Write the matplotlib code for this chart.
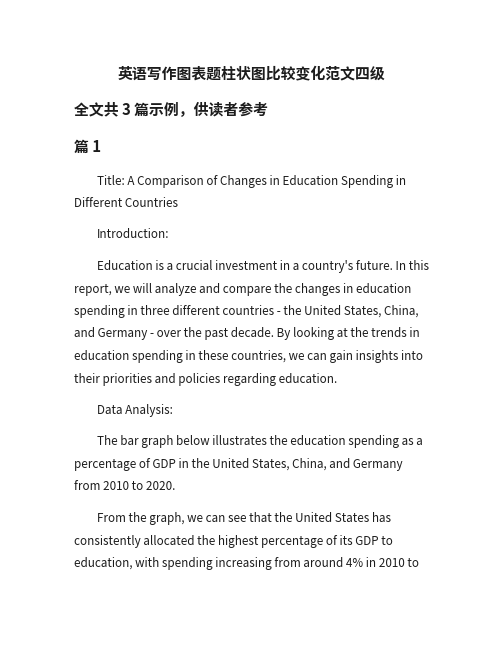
import matplotlib
matplotlib.use("Agg")
import matplotlib.pyplot as plt

plt.rcParams['font.family'] = ['Noto Sans CJK SC', 'DejaVu Sans']

W, H = 502, 649

doc_title = "英语写作图表题柱状图比较变化范文四级"
subtitle = "全文共 3 篇示例，供读者参考"
heading = "篇 1"

paragraphs = [
    ["Title: A Comparison of Changes in Education Spending in",
     "Different Countries"],
    ["Introduction:"],
    ["Education is a crucial investment in a country's future. In this",
     "report, we will analyze and compare the changes in education",
     "spending in three different countries - the United States, China,",
     "and Germany - over the past decade. By looking at the trends in",
     "education spending in these countries, we can gain insights into",
     "their priorities and policies regarding education."],
    ["Data Analysis:"],
    ["The bar graph below illustrates the education spending as a",
     "percentage of GDP in the United States, China, and Germany",
     "from 2010 to 2020."],
    ["From the graph, we can see that the United States has",
     "consistently allocated the highest percentage of its GDP to",
     "education, with spending increasing from around 4% in 2010 to"],
]

fig = plt.figure(figsize=(W / 100, H / 100), dpi=100)
fig.patch.set_facecolor('white')

color = '#1c1c1c'

def put(x, y, s, **kw):
    fig.text(x / W, 1 - y / H, s, color=color, va='center', **kw)

put(251, 73, doc_title, ha='center', fontsize=10.7, fontweight='bold')
put(74, 110, subtitle, ha='left', fontsize=10.7, fontweight='bold')
put(74, 147, heading, ha='left', fontsize=10.7, fontweight='bold')

y = 181
line_gap = 22.5
para_gap = 31.5
left, indent = 74, 97
for p in paragraphs:
    for i, line in enumerate(p):
        put(indent if i == 0 else left, y + i * line_gap, line, ha='left', fontsize=8.4)
    y += (len(p) - 1) * line_gap + para_gap

fig.savefig("out.png", dpi=100, facecolor='white')
